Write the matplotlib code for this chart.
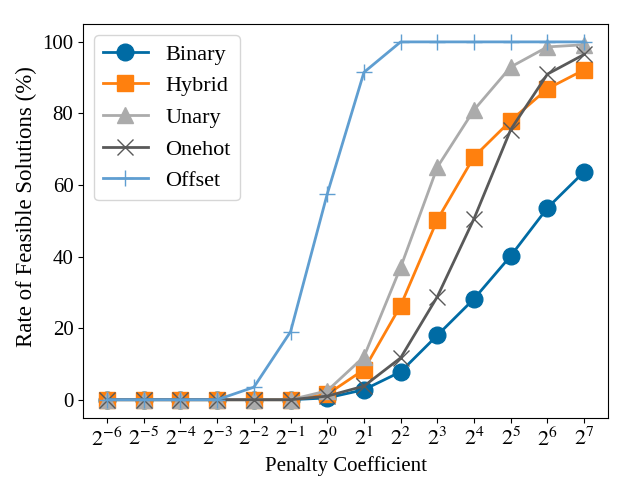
import numpy as np
import matplotlib
matplotlib.use("Agg")
import matplotlib.pyplot as plt

plt.style.use("tableau-colorblind10")
plt.rcParams["font.family"] = ["Liberation Serif", "DejaVu Serif"]
plt.rcParams["mathtext.fontset"] = "stix"
plt.rcParams["font.size"] = 15

# penalty coefficient exponents 2^-6 .. 2^7
exponents = np.arange(-6, 8)
penalty = 2.0 ** exponents

binary = [0, 0, 0, 0, 0, 0, 0.5, 2.8, 7.8, 18.0, 28.2, 40.2, 53.6, 63.7]
hybrid = [0, 0, 0, 0, 0, 0, 1.5, 8.4, 26.3, 50.3, 67.9, 78.0, 86.9, 92.2]
unary = [0, 0, 0, 0, 0, 0, 2.5, 12.0, 37.0, 65.0, 81.0, 93.0, 98.6, 99.2]
onehot = [0, 0, 0, 0, 0, 0, 1.0, 3.8, 11.7, 28.8, 50.6, 75.5, 91.0, 96.5]
offset = [0, 0, 0, 0, 3.5, 19.0, 57.5, 91.5, 100, 100, 100, 100, 100, 100]

series = [
    ("Binary", binary, "o"),
    ("Hybrid", hybrid, "s"),
    ("Unary", unary, "^"),
    ("Onehot", onehot, "x"),
    ("Offset", offset, "+"),
]

fig, ax = plt.subplots(figsize=(6.4, 4.8), dpi=100)
for name, vals, mk in series:
    ax.plot(penalty, vals, marker=mk, markersize=12, linewidth=2, label=name)

ax.set_xscale("log", base=2)
ax.set_xticks(penalty)
ax.set_xticklabels([r"$2^{%d}$" % e for e in exponents], fontsize=16)
ax.minorticks_off()
ax.tick_params(axis="y", labelsize=15)
ax.set_xlabel("Penalty Coefficient")
ax.set_ylabel("Rate of Feasible Solutions (%)", fontsize=16.5)
ax.yaxis.set_label_coords(-0.088, 0.535)
ax.legend(loc="upper left", fontsize=16)

plt.subplots_adjust(left=0.13, right=0.95, top=0.95, bottom=0.13)
plt.savefig("out.png")
